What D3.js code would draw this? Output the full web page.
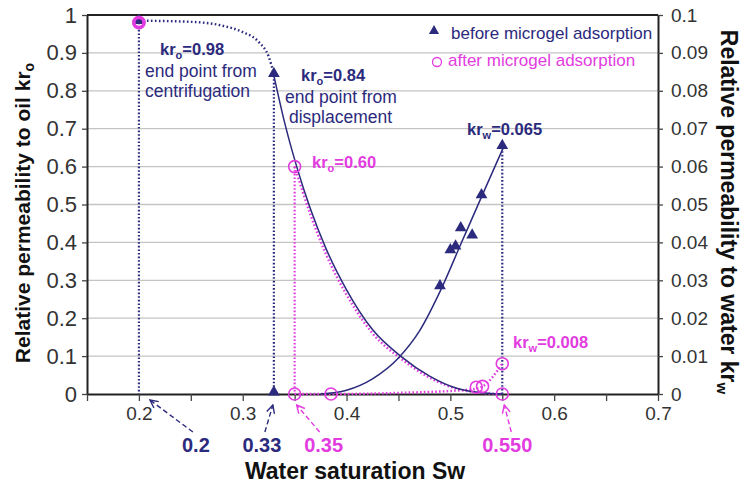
<!DOCTYPE html>
<html>
<head>
<meta charset="utf-8">
<script src="https://cdn.jsdelivr.net/npm/d3@7"></script>
<style>
  body { margin: 0; background: #fff; }
  text { font-family: "Liberation Sans", Arial, sans-serif; }
</style>
</head>
<body>
<div id="chart"></div>
<script>
// water saturation ticks and labels
var xTicks = [0.15, 0.2, 0.25, 0.3, 0.35, 0.4, 0.45, 0.5, 0.55, 0.6, 0.65, 0.7];
var xTickLabels = ["", "0.2", "", "0.3", "", "0.4", "", "0.5", "", "0.6", "", "0.7"];
var yLeftTicks = [0, 0.1, 0.2, 0.3, 0.4, 0.5, 0.6, 0.7, 0.8, 0.9, 1];
var yLeftLabels = ["0", "0.1", "0.2", "0.3", "0.4", "0.5", "0.6", "0.7", "0.8", "0.9", "1"];
var yRightTicks = [0, 0.01, 0.02, 0.03, 0.04, 0.05, 0.06, 0.07, 0.08, 0.09, 0.1];
var yRightLabels = ["0", "0.01", "0.02", "0.03", "0.04", "0.05", "0.06", "0.07", "0.08", "0.09", "0.1"];

// measured points [Sw, kr]
var beforeOil = [[0.20, 0.98], [0.33, 0.84]];
var beforeWater = [[0.33, 0], [0.49, 0.028], [0.50, 0.0375], [0.505, 0.0385], [0.51, 0.0433],
                   [0.521, 0.0414], [0.53, 0.052], [0.55, 0.065]];
var afterOil = [[0.20, 0.98], [0.35, 0.60], [0.55, 0]];
var afterWater = [[0.35, 0], [0.385, 0], [0.525, 0.0018], [0.531, 0.002], [0.55, 0.008]];

// fitted curves
var centrifugeCurve = [[0.20, 0.985], [0.25, 0.982], [0.28, 0.972], [0.30, 0.955], [0.315, 0.93],
                       [0.325, 0.89], [0.33, 0.845]];
var fitOilBefore = [[0.33, 0.84], [0.34, 0.72], [0.352, 0.60], [0.365, 0.49], [0.38, 0.385],
                    [0.40, 0.275], [0.425, 0.17], [0.453, 0.098], [0.48, 0.047], [0.506, 0.015],
                    [0.53, 0.003], [0.55, 0]];
var fitWaterBefore = [[0.375, 0], [0.40, 0.001], [0.425, 0.004], [0.45, 0.0095], [0.47, 0.0165],
                      [0.49, 0.027], [0.51, 0.0395], [0.53, 0.052], [0.551, 0.065]];
var fitOilAfter = [[0.35, 0.60], [0.365, 0.475], [0.38, 0.37], [0.40, 0.262], [0.425, 0.16],
                   [0.453, 0.092], [0.48, 0.043], [0.506, 0.014], [0.53, 0.003], [0.55, 0]];
var fitWaterAfter = [[0.35, 0], [0.385, 0], [0.45, 0.0003], [0.52, 0.0012], [0.531, 0.002], [0.55, 0.008]];

// end point drop lines: Sw, kr on left scale
var dropSw = [0.2, 0.33, 0.35, 0.55];
var dropKr = [0.98, 0.84, 0.60, 0.65];
var calloutText = ["0.2", "0.33", "0.35", "0.550"];

var navy = "#2b2a7d", magenta = "#e23ce0";
var width = 747, height = 484;
var margin = {left: 87, right: 89, top: 15, bottom: 90};

var svg = d3.select("#chart").append("svg")
    .attr("width", width).attr("height", height);

var x = d3.scaleLinear().domain([0.15, 0.7]).range([margin.left, width - margin.right]);
var yL = d3.scaleLinear().domain([0, 1]).range([height - margin.bottom, margin.top]);
var yR = d3.scaleLinear().domain([0, 0.1]).range([height - margin.bottom, margin.top]);

// gridlines
svg.append("g").selectAll("line").data(yLeftTicks.slice(1, -1)).join("line")
   .attr("x1", x(0.15)).attr("x2", x(0.7))
   .attr("y1", d => yL(d)).attr("y2", d => yL(d))
   .attr("stroke", "#c4c4c4").attr("stroke-width", 1.3);

// top border
svg.append("line").attr("x1", x(0.15)).attr("x2", x(0.7))
   .attr("y1", yL(1)).attr("y2", yL(1)).attr("stroke", "#222").attr("stroke-width", 2);

function styleAxis(g, size) {
  g.select(".domain").attr("stroke", "#222").attr("stroke-width", 2);
  g.selectAll(".tick line").attr("stroke", "#444").attr("stroke-width", 1.3);
  g.selectAll(".tick text").attr("fill", "#333").attr("font-size", size)
   .attr("font-family", "'Liberation Sans', Arial, sans-serif");
}

svg.append("g").attr("transform", "translate(0," + yL(0) + ")")
   .call(d3.axisBottom(x).tickValues(xTicks).tickSize(7).tickPadding(6).tickSizeOuter(0)
         .tickFormat((d, i) => xTickLabels[i]))
   .call(styleAxis, 19);

svg.append("g").attr("transform", "translate(" + x(0.15) + ",0)")
   .call(d3.axisLeft(yL).tickValues(yLeftTicks).tickSize(5).tickPadding(5).tickSizeOuter(0)
         .tickFormat((d, i) => yLeftLabels[i]))
   .call(styleAxis, 22);

svg.append("g").attr("transform", "translate(" + x(0.7) + ",0)")
   .call(d3.axisRight(yR).tickValues(yRightTicks).tickSize(5).tickPadding(8).tickSizeOuter(0)
         .tickFormat((d, i) => yRightLabels[i]))
   .call(styleAxis, 19);

// drop lines
var dropColors = [navy, navy, magenta, navy];
svg.append("g").selectAll("line").data(dropSw).join("line")
   .attr("x1", d => x(d)).attr("x2", d => x(d))
   .attr("y1", (d, i) => yL(dropKr[i])).attr("y2", yL(0))
   .attr("stroke", (d, i) => dropColors[i]).attr("stroke-width", 2.2)
   .attr("stroke-dasharray", "1.6,2");

// curves
var lineL = d3.line().x(d => x(d[0])).y(d => yL(d[1])).curve(d3.curveMonotoneX);
var lineR = d3.line().x(d => x(d[0])).y(d => yR(d[1])).curve(d3.curveMonotoneX);

svg.append("path").attr("d", lineL(centrifugeCurve)).attr("fill", "none")
   .attr("stroke", navy).attr("stroke-width", 2.4).attr("stroke-dasharray", "1.6,2.4");
svg.append("path").attr("d", lineR(fitWaterAfter)).attr("fill", "none")
   .attr("stroke", magenta).attr("stroke-width", 2.4).attr("stroke-dasharray", "1.6,2.2");
svg.append("path").attr("d", lineL(fitOilAfter)).attr("fill", "none")
   .attr("stroke", magenta).attr("stroke-width", 2.4).attr("stroke-dasharray", "1.6,2.2");
svg.append("path").attr("d", lineL(fitOilBefore)).attr("fill", "none")
   .attr("stroke", navy).attr("stroke-width", 1.5);
svg.append("path").attr("d", lineR(fitWaterBefore)).attr("fill", "none")
   .attr("stroke", navy).attr("stroke-width", 1.5);

// markers
var tri = d3.symbol().type(d3.symbolTriangle).size(60);
function triangles(data, yScale) {
  svg.append("g").selectAll("path").data(data).join("path")
     .attr("d", tri)
     .attr("transform", d => "translate(" + x(d[0]) + "," + (yScale(d[1]) - 2) + ")")
     .attr("fill", navy);
}
function circles(data, yScale) {
  svg.append("g").selectAll("circle").data(data).join("circle")
     .attr("cx", d => x(d[0])).attr("cy", d => yScale(d[1])).attr("r", 6)
     .attr("fill", "none").attr("stroke", magenta).attr("stroke-width", 1.6);
}
triangles(beforeOil, yL);
triangles(beforeWater, yR);
circles(afterOil, yL);
circles(afterWater, yR);
// heavier ring at the centrifugation end point
svg.append("circle").attr("cx", x(afterOil[0][0])).attr("cy", yL(afterOil[0][1]))
   .attr("r", 5).attr("fill", "none").attr("stroke", magenta).attr("stroke-width", 3.5);

// legend
svg.append("path").attr("d", d3.symbol().type(d3.symbolTriangle).size(45))
   .attr("transform", "translate(434,31)").attr("fill", navy);
svg.append("text").attr("x", 451).attr("y", 39).attr("font-size", 17)
   .attr("fill", navy).text("before microgel adsorption");
svg.append("circle").attr("cx", 437).attr("cy", 62).attr("r", 4.5)
   .attr("fill", "none").attr("stroke", magenta).attr("stroke-width", 1.3);
svg.append("text").attr("x", 448).attr("y", 66).attr("font-size", 17)
   .attr("fill", magenta).text("after microgel adsorption");

// annotations
function krLabel(px, py, sub, val, color) {
  var t = svg.append("text").attr("x", px).attr("y", py).attr("font-size", 16.5)
     .attr("font-weight", "bold").attr("fill", color);
  t.append("tspan").text("kr");
  t.append("tspan").attr("font-size", 11).attr("dy", 4).text(sub);
  t.append("tspan").attr("dy", -4).text("=" + val);
}
function plain(px, py, s, color) {
  svg.append("text").attr("x", px).attr("y", py).attr("font-size", 17.5)
     .attr("fill", color).text(s);
}
krLabel(160, 55, "o", "0.98", navy);
plain(145, 77, "end point from", navy);
plain(145, 97, "centrifugation", navy);
krLabel(301, 81, "o", "0.84", navy);
plain(285, 103, "end point from", navy);
plain(289, 123, "displacement", navy);
krLabel(312, 168, "o", "0.60", magenta);
krLabel(467, 135, "w", "0.065", navy);
krLabel(513, 348, "w", "0.008", magenta);

// callouts under the axis
var calloutColors = [navy, navy, magenta, magenta];
var calloutDx = [57, -12, 29, 5];
var arrowStartDx = [54, -9, 25, 9];
var tipDx = [11, -1, 2, 2];
var tipDy = [6, 11, 11, 11];
svg.append("defs").selectAll("marker").data(calloutColors).join("marker")
   .attr("id", (d, i) => "arr" + i).attr("viewBox", "0 0 10 10").attr("refX", 9).attr("refY", 5)
   .attr("markerWidth", 10).attr("markerHeight", 10).attr("markerUnits", "userSpaceOnUse")
   .attr("orient", "auto")
   .append("path").attr("d", "M1,1 L9,5 L1,9").attr("fill", "none")
   .attr("stroke", d => d).attr("stroke-width", 1.4);
svg.append("g").selectAll("line").data(dropSw).join("line")
   .attr("x1", (d, i) => x(d) + arrowStartDx[i]).attr("y1", yL(0) + 38)
   .attr("x2", (d, i) => x(d) + tipDx[i]).attr("y2", (d, i) => yL(0) + tipDy[i])
   .attr("stroke", (d, i) => calloutColors[i]).attr("stroke-width", 1.4)
   .attr("stroke-dasharray", "5,3")
   .attr("marker-end", (d, i) => "url(#arr" + i + ")");
svg.append("g").selectAll("text").data(dropSw).join("text")
   .attr("x", (d, i) => x(d) + calloutDx[i]).attr("y", yL(0) + 58)
   .attr("text-anchor", "middle").attr("font-size", 20).attr("font-weight", "bold")
   .attr("fill", (d, i) => calloutColors[i]).text((d, i) => calloutText[i]);

// axis titles
svg.append("text").attr("x", 355).attr("y", 479).attr("text-anchor", "middle")
   .attr("font-size", 23).attr("font-weight", "bold").attr("fill", "#111")
   .text("Water saturation Sw");

var tl = svg.append("text").attr("transform", "translate(30,213) rotate(-90)")
   .attr("text-anchor", "middle").attr("font-size", 21).attr("font-weight", "bold").attr("fill", "#111");
tl.append("tspan").text("Relative permeability to oil kr");
tl.append("tspan").attr("font-size", 14).attr("dy", 4).text("o");

var tr = svg.append("text").attr("transform", "translate(721,212) rotate(90)")
   .attr("text-anchor", "middle").attr("font-size", 23).attr("font-weight", "bold").attr("fill", "#111");
tr.append("tspan").text("Relative permeability to water kr");
tr.append("tspan").attr("font-size", 15).attr("dy", 4).text("w");
</script>
</body>
</html>
